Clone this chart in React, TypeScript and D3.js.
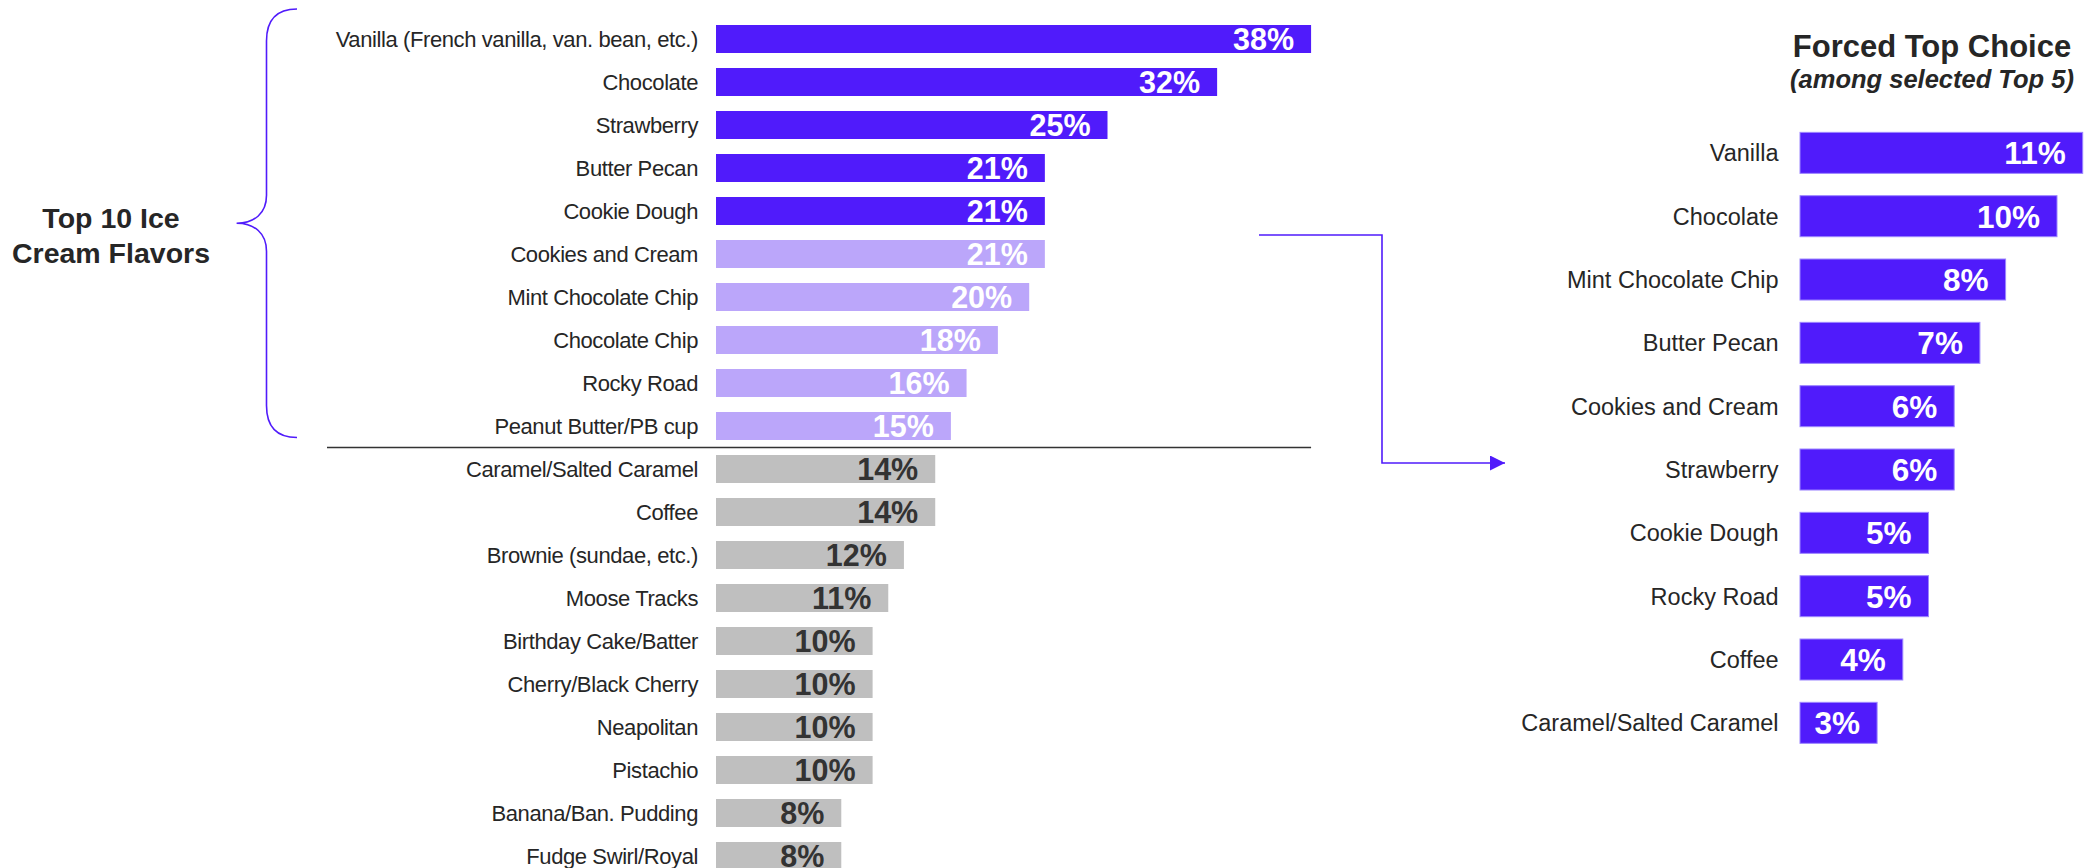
import React from 'react';
import * as d3 from 'd3';

// Left panel: share selecting each flavor among their top 5
const flavors = [
  'Vanilla (French vanilla, van. bean, etc.)',
  'Chocolate',
  'Strawberry',
  'Butter Pecan',
  'Cookie Dough',
  'Cookies and Cream',
  'Mint Chocolate Chip',
  'Chocolate Chip',
  'Rocky Road',
  'Peanut Butter/PB cup',
  'Caramel/Salted Caramel',
  'Coffee',
  'Brownie (sundae, etc.)',
  'Moose Tracks',
  'Birthday Cake/Batter',
  'Cherry/Black Cherry',
  'Neapolitan',
  'Pistachio',
  'Banana/Ban. Pudding',
  'Fudge Swirl/Royal',
];
const flavorValues = [38, 32, 25, 21, 21, 21, 20, 18, 16, 15, 14, 14, 12, 11, 10, 10, 10, 10, 8, 8];

// Right panel: forced top choice
const topChoice = [
  'Vanilla',
  'Chocolate',
  'Mint Chocolate Chip',
  'Butter Pecan',
  'Cookies and Cream',
  'Strawberry',
  'Cookie Dough',
  'Rocky Road',
  'Coffee',
  'Caramel/Salted Caramel',
];
const topChoiceValues = [11, 10, 8, 7, 6, 6, 5, 5, 4, 3];

const W = 2092;
const H = 868;
const PURPLE = '#501bfb';
const LIGHT = '#bba6fa';
const GREY = '#bfbfbf';
const TEXT = '#262626';
const FONT = '"Liberation Sans", Arial, sans-serif';

const tierColor = (i: number) => (i < 5 ? PURPLE : i < 10 ? LIGHT : GREY);
const tierText = (i: number) => (i < 10 ? '#ffffff' : '#333333');

const App: React.FC = () => {
  // left scales
  const xL = d3.scaleLinear().domain([0, 40]).range([716, 716 + 40 * 15.66]);
  const yL = d3
    .scaleBand<string>()
    .domain(flavors)
    .range([17.5, 17.5 + flavors.length * 43])
    .paddingInner(0.349)
    .paddingOuter(0.1745);

  // right scales
  const xR = d3.scaleLinear().domain([0, 12]).range([1800, 1800 + 12 * 25.7]);
  const yR = d3
    .scaleBand<string>()
    .domain(topChoice)
    .range([121.2, 121.2 + topChoice.length * 63.33])
    .paddingInner(0.3526)
    .paddingOuter(0.1763);

  const bwL = yL.bandwidth();
  const bwR = yR.bandwidth();

  // separator between top 10 and the rest
  const sepY = (yL(flavors[9])! + bwL + yL(flavors[10])!) / 2;

  // brace around top 10
  const bTop = yL(flavors[0])! - 16;
  const bBot = yL(flavors[9])! + bwL - 2.5;
  const bMid = (bTop + bBot) / 2;
  const bx = 297;
  const bv = 266.5;
  const bt = 236.6;
  const brace = [
    `M${bx},${bTop}`,
    `C${bx - 20},${bTop} ${bv},${bTop + 10} ${bv},${bTop + 32}`,
    `L${bv},${bMid - 28}`,
    `C${bv},${bMid - 10} ${bv - 12},${bMid} ${bt},${bMid}`,
    `C${bv - 12},${bMid} ${bv},${bMid + 10} ${bv},${bMid + 28}`,
    `L${bv},${bBot - 32}`,
    `C${bv},${bBot - 10} ${bx - 20},${bBot} ${bx},${bBot}`,
  ].join(' ');

  return (
    <svg
      width={W}
      height={H}
      style={{ position: 'absolute', left: 0, top: 0, background: '#fff' }}
      fontFamily={FONT}
    >
      <defs>
        <marker id="arrow" viewBox="0 0 10 10" refX="10" refY="5" markerWidth="10" markerHeight="10" markerUnits="userSpaceOnUse" orient="auto">
          <path d="M0,0 L10,5 L0,10 Z" fill={PURPLE} />
        </marker>
        <marker id="arrowBig" viewBox="0 0 15 15" refX="15" refY="7.5" markerWidth="15" markerHeight="15" markerUnits="userSpaceOnUse" orient="auto">
          <path d="M0,0 L15,7.5 L0,15 Z" fill={PURPLE} />
        </marker>
      </defs>

      {/* left group title + brace */}
      <text x={111} y={228} textAnchor="middle" fontWeight="bold" fontSize={28.5} fill={TEXT}>
        Top 10 Ice
      </text>
      <text x={111} y={263} textAnchor="middle" fontWeight="bold" fontSize={28.5} fill={TEXT}>
        Cream Flavors
      </text>
      <path d={brace} fill="none" stroke={PURPLE} strokeWidth={1.6} />

      {/* left bars */}
      {flavors.map((f, i) => (
        <g key={f}>
          <text
            x={698}
            y={yL(f)! + bwL / 2}
            dy="0.36em"
            textAnchor="end"
            fontSize={22}
            letterSpacing={-0.4}
            fill={TEXT}
          >
            {f}
          </text>
          <rect x={xL(0)} y={yL(f)} width={xL(flavorValues[i]) - xL(0)} height={bwL} fill={tierColor(i)} />
          <text
            x={xL(flavorValues[i]) - 17}
            y={yL(f)! + bwL / 2}
            dy="0.36em"
            textAnchor="end"
            fontSize={30.5}
            fontWeight="bold"
            fill={tierText(i)}
          >
            {flavorValues[i]}%
          </text>
        </g>
      ))}
      <line x1={327} x2={xL(38)} y1={sepY} y2={sepY} stroke="#333" strokeWidth={1.5} />

      {/* connector arrow */}
      <path
        d="M1259,235 L1382,235 L1382,463 L1505,463"
        fill="none"
        stroke={PURPLE}
        strokeWidth={1.6}
        markerEnd="url(#arrowBig)"
      />

      {/* right panel title */}
      <text x={1932} y={56.7} textAnchor="middle" fontWeight="bold" fontSize={31} fill={TEXT}>
        Forced Top Choice
      </text>
      <text x={1932} y={88} textAnchor="middle" fontWeight="bold" fontStyle="italic" fontSize={25.5} fill={TEXT}>
        (among selected Top 5)
      </text>

      {/* right bars */}
      {topChoice.map((f, i) => (
        <g key={f}>
          <text
            x={1778.6}
            y={yR(f)! + bwR / 2}
            dy="0.36em"
            textAnchor="end"
            fontSize={23.5}
            fill={TEXT}
          >
            {f}
          </text>
          <rect
            x={xR(0)}
            y={yR(f)}
            width={xR(topChoiceValues[i]) - xR(0)}
            height={bwR}
            fill={PURPLE}
            stroke="#9c85ff"
            strokeWidth={1}
          />
          <text
            x={xR(topChoiceValues[i]) - 17}
            y={yR(f)! + bwR / 2}
            dy="0.36em"
            textAnchor="end"
            fontSize={31.5}
            fontWeight="bold"
            fill="#ffffff"
          >
            {topChoiceValues[i]}%
          </text>
        </g>
      ))}
    </svg>
  );
};

export default App;
